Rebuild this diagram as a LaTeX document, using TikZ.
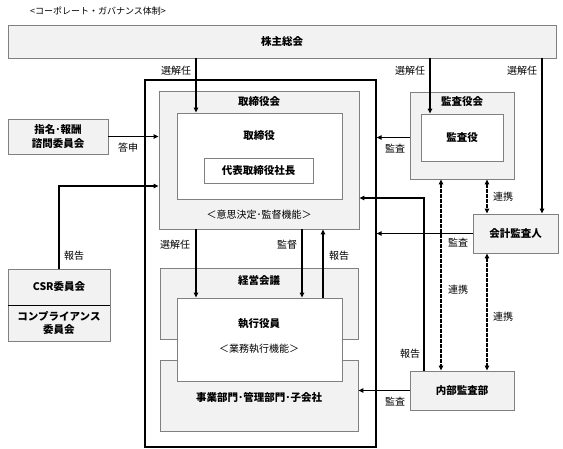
\documentclass[tikz,border=0pt]{standalone}
\usepackage{fontspec}
\setmainfont{Noto Sans CJK JP}
\usetikzlibrary{arrows.meta}
\definecolor{boxfill}{HTML}{F2F2F2}
\definecolor{boxline}{HTML}{808080}
\begin{document}
\begin{tikzpicture}[x=1pt,y=-1pt,
 gbox/.style={draw=boxline,fill=boxfill,line width=0.9pt,inner sep=0pt},
 wbox/.style={draw=boxline,fill=white,line width=0.9pt,inner sep=0pt},
 arr/.style={-{Triangle[length=5pt,width=4.5pt]},line width=1.1pt},
 darr/.style={{Triangle[length=5pt,width=4.5pt]}-{Triangle[length=5pt,width=4.5pt]},line width=1.1pt,dash pattern=on 3.5pt off 1.5pt},
 lbl/.style={font=\fontsize{10}{12}\selectfont},
 ttl/.style={font=\fontsize{10.5}{12}\selectfont\bfseries,align=center}]
\useasboundingbox (0,0) rectangle (563,448);
\node[font=\fontsize{9}{10}\selectfont] (title) at (98,11) {<コーポレート・ガバナンス体制>};
% boxes
\node[gbox,minimum width=548pt,minimum height=33pt,ttl] (kabu) at (282,41.5) {株主総会};
\node[draw=black,line width=1.3pt,minimum width=231pt,minimum height=367pt] (outer) at (260.5,263.5) {};
\node[gbox,minimum width=200pt,minimum height=138pt] (trkai) at (259,160) {};
\node[wbox,minimum width=165pt,minimum height=86pt] (tr) at (259.5,156) {};
\node[wbox,minimum width=109pt,minimum height=25pt,ttl] (shacho) at (258.5,170.5) {代表取締役社長};
\node[ttl] (trkailbl) at (259,102) {取締役会};
\node[ttl] (trlbl) at (259,136) {取締役};
\node[lbl] (ishi) at (259,215) {＜意思決定･監督機能＞};
\node[gbox,minimum width=198pt,minimum height=71pt] (keiei) at (259,303.5) {};
\node[gbox,minimum width=198pt,minimum height=71pt] (jigyo) at (259,395.5) {};
\node[wbox,minimum width=165pt,minimum height=83pt] (shikko) at (259.5,339.5) {};
\node[ttl] (keieilbl) at (259,280) {経営会議};
\node[ttl] (shikkolbl) at (259,324) {執行役員};
\node[lbl] (gyomu) at (259,349) {＜業務執行機能＞};
\node[ttl] (jigyolbl) at (259,397) {事業部門･管理部門･子会社};
\node[gbox,minimum width=104pt,minimum height=87pt] (kansakai) at (462,135.5) {};
\node[wbox,minimum width=82pt,minimum height=47pt,ttl] (kansayaku) at (462,137.5) {監査役};
\node[ttl] (kansakailbl) at (462,102) {監査役会};
\node[gbox,minimum width=85pt,minimum height=39pt,ttl] (kaikei) at (515.5,233.5) {会計監査人};
\node[gbox,minimum width=104pt,minimum height=39pt,ttl] (naibu) at (462,390.5) {内部監査部};
\node[gbox,minimum width=100pt,minimum height=35pt,ttl,font=\fontsize{10.5}{13.5}\selectfont\bfseries] (shimei) at (58,136.5) {指名･報酬\\諮問委員会};
\node[gbox,minimum width=102pt,minimum height=36pt,ttl] (csr) at (59,287) {CSR委員会};
\node[gbox,minimum width=102pt,minimum height=36pt,ttl,font=\fontsize{10.5}{13.5}\selectfont\bfseries] (comp) at (59,323) {コンプライアンス\\委員会};
\draw[line width=1.3pt] (csr.south west) -- (csr.south east);
% columns
\coordinate (c1) at (196,0);
\coordinate (c2) at (302,0);
\coordinate (c3) at (323,0);
\coordinate (c4) at (430,0);
\coordinate (c5) at (542,0);
\coordinate (c6) at (487,0);
\coordinate (c7) at (441,0);
\coordinate (c8) at (424,0);
\coordinate (c9) at (59,0);
\coordinate (r1) at (0,186);
\coordinate (r2) at (0,198);
% arrows
\draw[arr] (kabu.south -| c1) -- (tr.north -| c1);
\draw[arr] (kabu.south -| c4) -- (kansayaku.north -| c4);
\draw[arr] (kabu.south -| c5) -- (kaikei.north -| c5);
\draw[arr] (shimei.east) -- (trkai.west |- shimei.east);
\draw[arr] (csr.north -| c9) |- (trkai.west |- r1);
\draw[arr] (kansakai.west |- kansayaku.center) -- (outer.east |- kansayaku.center);
\draw[arr] (kaikei.west) -- (outer.east |- kaikei.west);
\draw[arr] (naibu.north -| c8) |- (trkai.east |- r2);
\draw[arr] (naibu.west) -- (jigyo.east |- naibu.west);
\draw[arr] (trkai.south -| c1) -- (shikko.north -| c1);
\draw[arr] (trkai.south -| c2) -- (shikko.north -| c2);
\draw[arr] (shikko.north -| c3) -- (trkai.south -| c3);
\draw[darr] (kansakai.south -| c6) -- (kaikei.north -| c6);
\draw[darr] (kansakai.south -| c7) -- (naibu.north -| c7);
\draw[darr] (kaikei.south -| c6) -- (naibu.north -| c6);
% labels
\node[lbl] (l1) at (176,71) {選解任};
\node[lbl] (l2) at (410,71) {選解任};
\node[lbl] (l3) at (522,71) {選解任};
\node[lbl] (l4) at (175,245) {選解任};
\node[lbl] (l5) at (287,245) {監督};
\node[lbl] (l6) at (339,256) {報告};
\node[lbl] (l7) at (128,148) {答申};
\node[lbl] (l8) at (74,256) {報告};
\node[lbl] (l9) at (395,149) {監査};
\node[lbl] (l10) at (458,243) {監査};
\node[lbl] (l11) at (503,197) {連携};
\node[lbl] (l12) at (458,290) {連携};
\node[lbl] (l13) at (503,317) {連携};
\node[lbl] (l14) at (410,354) {報告};
\node[lbl] (l15) at (395,402) {監査};
\end{tikzpicture}
\end{document}
